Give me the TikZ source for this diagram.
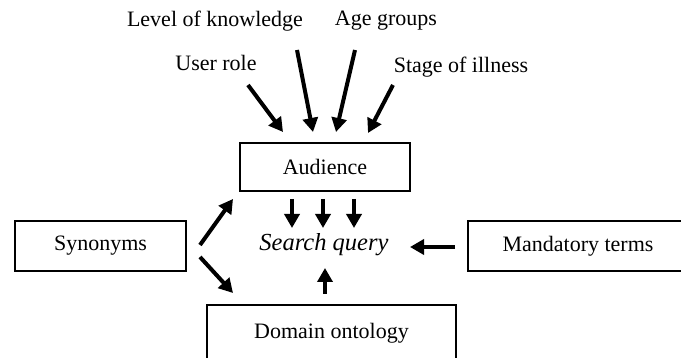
\documentclass[tikz,border=0pt]{standalone}
\usepackage{fontspec}
\setmainfont{Liberation Serif}
\usetikzlibrary{arrows.meta}
\tikzset{
  box/.style={draw, line width=2.5pt, inner sep=0pt},
  arr/.style={line width=4pt, -{Triangle[length=14pt,width=15pt]}}
}
\begin{document}
\begin{tikzpicture}[x=1pt,y=-1pt,font=\fontsize{22}{26}\selectfont]
    \useasboundingbox (0,0) rectangle (681,358);
    \clip (0,0) rectangle (681,358);
    % labels on top
    \node (level) at (215,21) {Level of knowledge};
    \node (age) at (386,21) {Age groups};
    \node (user) at (216,63) {User role};
    \node (stage) at (461,67) {Stage of illness};
    % boxes
    \node[box, minimum width=170pt, minimum height=48pt] (aud) at (325,167) {Audience};
    \node[box, minimum width=171pt, minimum height=50pt] (syn) at (100.5,246) {Synonyms};
    \node[box, minimum width=220pt, minimum height=50pt] (mand) at (578,246) {Mandatory terms};
    \node[box, minimum width=249pt, minimum height=56pt] (dom) at (331.5,333) {Domain ontology};
    \node[font=\fontsize{24.5}{28}\selectfont\itshape] (query) at (324,245) {Search query};
    % arrow ends
    \coordinate (u1) at (248,85);   \coordinate (u2) at (283,132);
    \coordinate (l1) at (297,50);   \coordinate (l2) at (313,132);
    \coordinate (a1) at (355,50);   \coordinate (a2) at (336,132);
    \coordinate (s1) at (393,85);   \coordinate (s2) at (368,133);
    \draw[arr] (u1) -- (u2);
    \draw[arr] (l1) -- (l2);
    \draw[arr] (a1) -- (a2);
    \draw[arr] (s1) -- (s2);
    % audience to query
    \foreach \x in {292,323,354}
      \draw[arr] (\x,199) -- (\x,228);
    % synonyms
    \coordinate (y1) at (200,245); \coordinate (y2) at (233,199);
    \coordinate (y3) at (200,257); \coordinate (y4) at (233,293);
    \draw[arr] (y1) -- (y2);
    \draw[arr] (y3) -- (y4);
    % mandatory and domain
    \coordinate (m1) at (455,247); \coordinate (m2) at (410,247);
    \coordinate (d1) at (325,294); \coordinate (d2) at (325,268);
    \draw[arr] (m1) -- (m2);
    \draw[arr] (d1) -- (d2);
\end{tikzpicture}
\end{document}
